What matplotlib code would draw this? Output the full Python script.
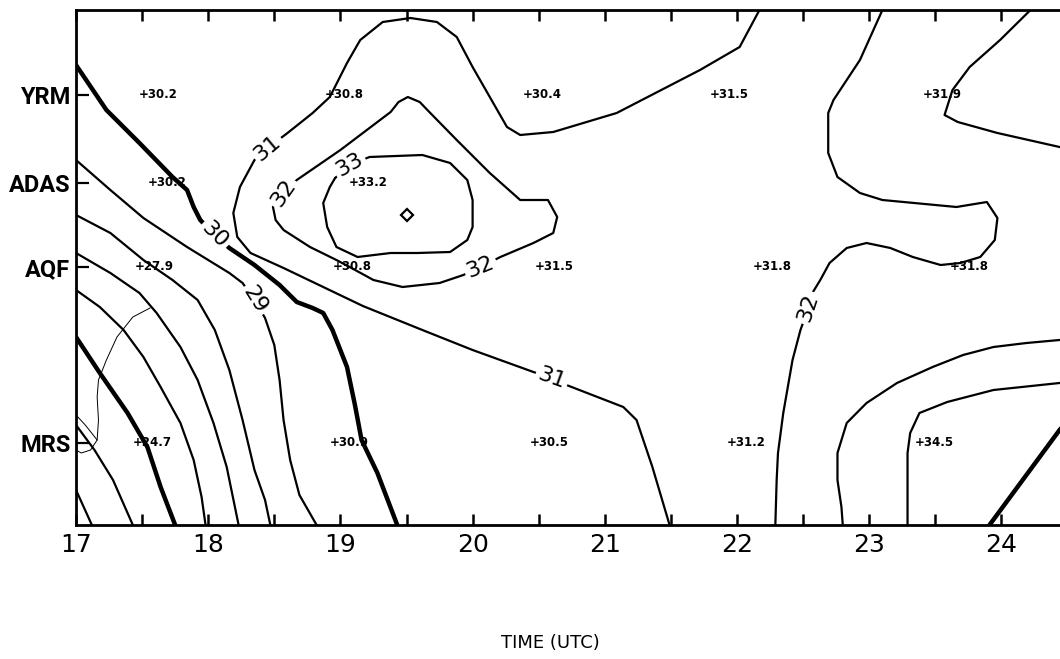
import matplotlib
matplotlib.use("Agg")
import matplotlib.pyplot as plt

# ---------------- data ----------------
stations = ["YRM", "ADAS", "AQF", "MRS"]
station_pos = [430, 342, 258, 82]          # distance units along the y axis
hour_ticks = [17, 18, 19, 20, 21, 22, 23, 24]
half_ticks = [17.5, 18.5, 19.5, 20.5, 21.5, 22.5, 23.5, 24.5]

# contour lines (time in UTC hours, position along station axis)
c23_t = [17.00, 17.12]
c23_y = [35, 0]
c24_t = [17.00, 17.14, 17.28, 17.43]
c24_y = [100, 75, 45, 0]
c25_t = [17.00, 17.18, 17.39, 17.54, 17.64, 17.75]
c25_y = [188, 152, 112, 78, 38, 0]
c26_t = [17.00, 17.18, 17.36, 17.51, 17.64, 17.79, 17.89, 17.95, 17.98]
c26_y = [235, 218, 195, 168, 138, 102, 65, 28, 0]
c27_t = [17.00, 17.26, 17.48, 17.61, 17.79, 17.92, 18.04, 18.14, 18.23]
c27_y = [272, 252, 232, 212, 178, 145, 102, 58, 0]
c28_t = [17.00, 17.26, 17.51, 17.73, 17.92, 18.05, 18.16, 18.26, 18.35, 18.43, 18.47]
c28_y = [310, 292, 265, 245, 225, 195, 155, 105, 55, 25, 0]
c29_t = [17.00, 17.26, 17.51, 17.84, 18.16, 18.26, 18.35, 18.43, 18.50, 18.54,
         18.57, 18.62, 18.69, 18.82]
c29_y = [365, 335, 307, 278, 252, 242, 225, 207, 180, 145, 105, 65, 30, 0]
c30_t = [17.00, 17.23, 17.48, 17.73, 17.84, 17.89, 17.94, 18.05, 18.16, 18.35,
         18.54, 18.67, 18.79, 18.87, 18.94, 19.05, 19.11, 19.16, 19.28, 19.43]
c30_y = [460, 415, 382, 348, 335, 318, 305, 290, 277, 260, 240, 223, 217, 212,
         195, 158, 120, 85, 52, 0]
c31_t = [22.17, 22.02, 21.72, 21.09, 20.61, 20.36, 20.26, 20.13, 20.00, 19.88,
         19.73, 19.53, 19.32, 19.15, 19.05, 18.92, 18.79, 18.60, 18.45, 18.35,
         18.24, 18.19, 18.22, 18.32, 18.57, 18.87, 19.17, 19.62, 20.00, 20.46,
         20.60, 20.71, 21.14, 21.24, 21.36, 21.49]
c31_y = [515, 478, 455, 412, 393, 390, 398, 428, 458, 488, 503, 507, 503, 485,
         462, 428, 412, 392, 377, 365, 338, 312, 288, 272, 257, 238, 219, 195,
         175, 153, 147, 140, 118, 105, 58, 0]
c32a_t = [18.49, 18.51, 18.57, 18.77, 18.97, 19.07, 19.25, 19.47, 19.75, 19.93,
          20.06, 20.21, 20.46, 20.61, 20.64, 20.57, 20.36, 20.13, 19.88, 19.68,
          19.60, 19.51, 19.44, 19.38, 19.00, 18.67, 18.57, 18.49]
c32a_y = [318, 305, 295, 278, 265, 258, 245, 238, 242, 250, 258, 268, 282, 292,
          308, 325, 325, 352, 385, 412, 423, 428, 423, 413, 375, 345, 332, 318]
c33a_t = [18.96, 18.92, 18.87, 18.90, 18.97, 19.13, 19.38, 19.58, 19.83, 19.96,
          20.00, 20.00, 19.96, 19.83, 19.62, 19.22, 19.07, 18.96]
c33a_y = [347, 338, 322, 298, 278, 268, 272, 272, 273, 285, 298, 325, 345, 362,
          370, 368, 360, 347]
c32b_t = [23.10, 22.93, 22.73, 22.69, 22.69, 22.76, 22.93, 23.10, 23.66, 23.89,
          23.97, 23.95, 23.84, 23.69, 23.54, 23.33, 23.16, 22.98, 22.83, 22.70,
          22.63, 22.57, 22.54, 22.48, 22.42, 22.35, 22.31, 22.30, 22.29]
c32b_y = [515, 465, 425, 412, 372, 348, 332, 325, 318, 323, 307, 285, 268, 262,
          260, 268, 277, 282, 277, 262, 245, 232, 217, 195, 165, 112, 72, 45, 0]
c32c_t = [24.22, 23.99, 23.76, 23.63, 23.57, 23.67, 23.97, 24.44, 24.97]
c32c_y = [515, 485, 458, 435, 410, 403, 392, 378, 365]
c33b_t = [22.80, 22.79, 22.76, 22.76, 22.83, 22.98, 23.21, 23.48, 23.71, 23.94,
          24.19, 24.44, 24.97]
c33b_y = [0, 18, 45, 72, 102, 122, 142, 158, 170, 178, 182, 185, 189]
c34_t = [23.29, 23.29, 23.29, 23.31, 23.38, 23.59, 23.94, 24.44, 24.97]
c34_y = [0, 45, 72, 92, 112, 123, 135, 142, 147]
c35_t = [23.91, 24.44, 24.82]
c35_y = [0, 95, 155]

contours = [
    (23, c23_t, c23_y), (24, c24_t, c24_y), (25, c25_t, c25_y),
    (26, c26_t, c26_y), (27, c27_t, c27_y), (28, c28_t, c28_y),
    (29, c29_t, c29_y), (30, c30_t, c30_y), (31, c31_t, c31_y),
    (32, c32a_t, c32a_y), (33, c33a_t, c33a_y), (32, c32b_t, c32b_y),
    (32, c32c_t, c32c_y), (33, c33b_t, c33b_y), (34, c34_t, c34_y),
    (35, c35_t, c35_y),
]

# hand-drawn thin outline near MRS
coast1_t = [17.56, 17.43, 17.31, 17.23, 17.17, 17.16, 17.17, 17.16, 17.11, 17.04, 17.00]
coast1_y = [217, 208, 188, 165, 145, 128, 105, 85, 75, 72, 75]
coast2_t = [17.00, 17.07, 17.16]
coast2_y = [110, 100, 85]

# contour labels: text, time, position, rotation
lab_text = ["30", "29", "31", "32", "33", "32", "31", "32"]
lab_t = [18.05, 18.35, 18.45, 18.57, 19.07, 20.06, 20.60, 22.54]
lab_y = [290, 225, 377, 332, 360, 258, 147, 217]
lab_rot = [-45, -58, 40, 55, 30, 22, -20, 72]

# maximum marker
max_t = [19.50]
max_y = [310]

# station observations
obs_text = ["+30.2", "+30.8", "+30.4", "+31.5", "+31.9",
            "+30.2", "+33.2",
            "+27.9", "+30.8", "+31.5", "+31.8", "+31.8",
            "+24.7", "+30.9", "+30.5", "+31.2", "+34.5"]
obs_t = [17.51, 18.92, 20.42, 21.83, 23.44,
         17.58, 19.10,
         17.48, 18.98, 20.51, 22.16, 23.65,
         17.47, 18.96, 20.47, 21.96, 23.38]
obs_y = [430, 430, 430, 430, 430,
         342, 342,
         258, 258, 258, 258, 258,
         82, 82, 82, 82, 82]

# ---------------- figure ----------------
W, H = 1060, 659
fig = plt.figure(figsize=(W / 100, H / 100), dpi=100)
ax = fig.add_axes([76 / W, 134 / H, 1057.6 / W, 515 / H])
ax.set_xlim(17, 25)
ax.set_ylim(0, 515)

for val, t, y in contours:
    lw = 3.2 if val % 5 == 0 else 1.6
    ax.plot(t, y, color="black", lw=lw, solid_capstyle="round",
            solid_joinstyle="round", zorder=2)

ax.plot(coast1_t, coast1_y, color="black", lw=0.7, zorder=2)
ax.plot(coast2_t, coast2_y, color="black", lw=0.7, zorder=2)

for s, t, y, r in zip(lab_text, lab_t, lab_y, lab_rot):
    ax.text(t, y, s, rotation=r, rotation_mode="anchor", ha="center",
            va="center", fontsize=16, family="DejaVu Sans", zorder=4,
            bbox=dict(boxstyle="square,pad=0.12", fc="white", ec="none"))

ax.plot(max_t, max_y, marker="D", ms=6, mfc="white", mec="black", mew=1.6,
        ls="none", zorder=4)

for s, t, y in zip(obs_text, obs_t, obs_y):
    ax.annotate(s, (t, y), xytext=(-5, 0), textcoords="offset pixels",
                ha="left", va="center", fontsize=8.5, fontweight="bold",
                family="DejaVu Sans", zorder=5)

# axes styling
for side in ["left", "bottom", "top"]:
    ax.spines[side].set_linewidth(2.0)
ax.spines["right"].set_visible(False)

ax.set_xticks(hour_ticks)
ax.set_xticklabels([str(h) for h in hour_ticks], fontsize=18,
                   family="DejaVu Sans")
ax.set_xticks(half_ticks, minor=True)
ax.tick_params(axis="x", which="both", direction="in", top=True,
               length=8, width=1.8, pad=6)

ax.set_yticks(station_pos)
ax.set_yticklabels(stations, fontsize=17, fontweight="bold",
                   family=["Roboto", "DejaVu Sans"])
ax.tick_params(axis="y", direction="in", length=9, width=1.6, pad=4)

fig.text(550 / W, 1 - 643 / H, "TIME (UTC)", ha="center", va="center",
         fontsize=13, family="DejaVu Sans")

fig.savefig("out.png", dpi=100)
